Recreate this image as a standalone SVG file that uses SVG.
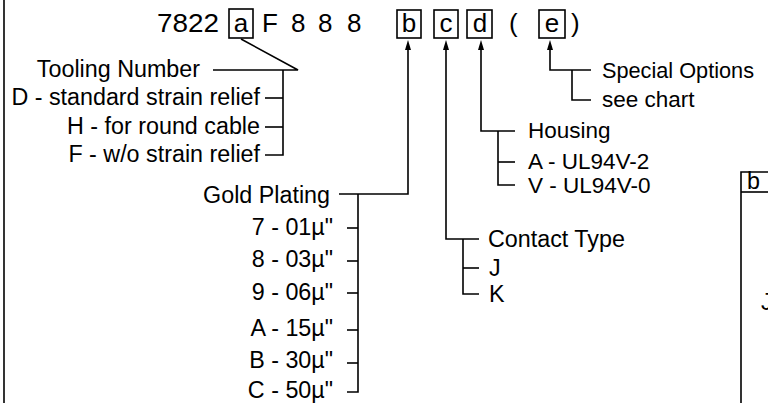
<svg xmlns="http://www.w3.org/2000/svg" width="768" height="403" viewBox="0 0 768 403">
<defs>
<style>
text{font-family:"Liberation Sans",Arial,sans-serif;font-size:23.3px;fill:#000}
.t{font-size:26px}
.s{font-size:22.5px}
.e{text-anchor:end}
.m{text-anchor:middle}
.ln{stroke:#000;stroke-width:1.6;fill:none}
.bx{stroke:#000;stroke-width:1.6;fill:none}
.ah{fill:#000;stroke:none}
</style>
</defs>
<rect width="768" height="403" fill="#fff"/>
<line class="ln" x1="4" y1="0" x2="4" y2="403" stroke-width="2"/>

<g id="code">
<text class="t" x="157" y="32" textLength="62" lengthAdjust="spacingAndGlyphs">7822</text>
<rect class="bx" x="229" y="9" width="24" height="29"/>
<text class="t m" x="241" y="32">a</text>
<text class="t" x="262" y="32">F</text>
<text class="t" x="291" y="32">8</text>
<text class="t" x="318" y="32">8</text>
<text class="t" x="347" y="32">8</text>
<rect class="bx" x="397" y="10" width="24" height="28"/>
<text class="t m" x="409" y="32">b</text>
<rect class="bx" x="434" y="10" width="24" height="28"/>
<text class="t m" x="446" y="32">c</text>
<rect class="bx" x="467" y="10" width="25" height="28"/>
<text class="t m" x="480" y="32">d</text>
<text class="t" x="509" y="32">(</text>
<rect class="bx" x="539" y="10" width="26" height="28"/>
<text class="t m" x="552" y="32">e</text>
<text class="t" x="571" y="32">)</text>
</g>

<g id="connectors">
<polyline class="ln" points="241,39 298,70 213,70"/>
<polyline class="ln" points="283,70 283,155 265,155"/>
<line class="ln" x1="265" y1="98" x2="283" y2="98"/>
<line class="ln" x1="265" y1="127" x2="283" y2="127"/>

<polyline class="ln" points="408,46 408,194 339,194"/>
<path class="ah" d="M408,40 L411,50 L405,50 Z"/>
<polyline class="ln" points="358,194 358,392 347,392"/>
<line class="ln" x1="347" y1="228" x2="358" y2="228"/>
<line class="ln" x1="347" y1="261" x2="358" y2="261"/>
<line class="ln" x1="347" y1="293" x2="358" y2="293"/>
<line class="ln" x1="347" y1="330" x2="358" y2="330"/>
<line class="ln" x1="347" y1="363" x2="358" y2="363"/>

<polyline class="ln" points="446,46 446,239 479,239"/>
<path class="ah" d="M446,40 L449,50 L443,50 Z"/>
<polyline class="ln" points="463,239 463,294 479,294"/>
<line class="ln" x1="463" y1="268" x2="479" y2="268"/>

<polyline class="ln" points="481,46 481,131 515,131"/>
<path class="ah" d="M481,40 L484,50 L478,50 Z"/>
<polyline class="ln" points="498,131 498,185 515,185"/>
<line class="ln" x1="498" y1="162" x2="515" y2="162"/>

<polyline class="ln" points="550,46 550,70 591,70"/>
<path class="ah" d="M550,40 L553,50 L547,50 Z"/>
<polyline class="ln" points="572,70 572,100 591,100"/>
</g>

<g id="tooling">
<text class="e" x="200" y="77">Tooling Number</text>
<text class="e" x="260" y="105">D - standard strain relief</text>
<text class="e" x="260" y="134">H - for round cable</text>
<text class="e" x="260" y="162">F - w/o strain relief</text>
</g>

<g id="gold">
<text class="e" x="330" y="203">Gold Plating</text>
<text class="e" x="333" y="235">7 - 01µ"</text>
<text class="e" x="333" y="267">8 - 03µ"</text>
<text class="e" x="333" y="300">9 - 06µ"</text>
<text class="e" x="333" y="336">A - 15µ"</text>
<text class="e" x="333" y="368">B - 30µ"</text>
<text class="e" x="333" y="398">C - 50µ"</text>
</g>

<g id="contact">
<text x="488" y="247">Contact Type</text>
<text x="489" y="276">J</text>
<text x="489" y="302">K</text>
</g>

<g id="housing">
<text class="s" x="528" y="138">Housing</text>
<text class="s" x="528" y="169">A - UL94V-2</text>
<text class="s" x="528" y="193">V - UL94V-0</text>
</g>

<g id="special">
<text class="s" x="602" y="78" textLength="152" lengthAdjust="spacingAndGlyphs">Special Options</text>
<text class="s" x="602" y="107">see chart</text>
</g>

<g id="chart">
<polyline class="ln" points="768,172 741,172 741,403"/>
<line class="ln" x1="741" y1="192" x2="768" y2="192"/>
<text x="747" y="189">b</text>
<text x="761" y="310">J</text>
</g>
</svg>
